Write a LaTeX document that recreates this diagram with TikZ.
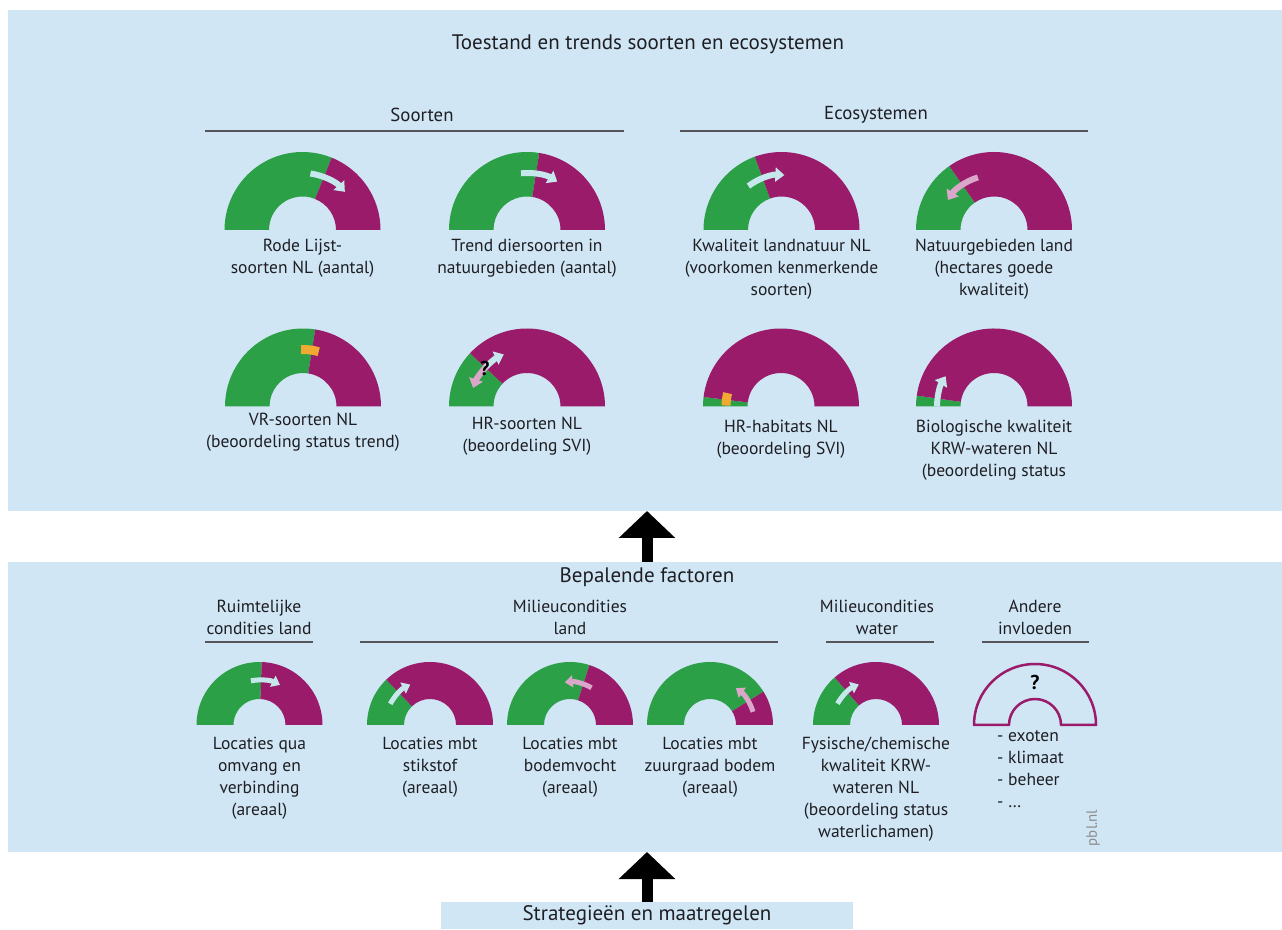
\documentclass[tikz,border=0pt]{standalone}
\usepackage{fontspec}
\setmainfont{PT Sans}
\usetikzlibrary{arrows.meta,calc}
\definecolor{panelblue}{RGB}{208,230,245}
\definecolor{ggreen}{RGB}{43,160,70}
\definecolor{gpurple}{RGB}{155,27,107}
\definecolor{acyan}{RGB}{198,232,236}
\definecolor{apink}{RGB}{218,166,202}
\definecolor{aorange}{RGB}{240,170,50}
\definecolor{textc}{RGB}{30,30,35}
\definecolor{linec}{RGB}{85,85,90}
\newcommand\gaugeX[5]{%
  \begin{scope}[shift={(#1,#2)}]
    \fill[ggreen] (180:#3) arc[start angle=180,end angle=#5,radius=#3] -- (#5:#4) arc[start angle=#5,end angle=180,radius=#4] -- cycle;
    \fill[gpurple] (#5:#3) arc[start angle=#5,end angle=0,radius=#3] -- (0:#4) arc[start angle=0,end angle=#5,radius=#4] -- cycle;
  \end{scope}}
\newcommand\garrowX[6]{%
  \begin{scope}[shift={(#2,#3)}]
    \draw[#1] (#5:#4) arc[start angle=#5,end angle=#6,radius=#4];
  \end{scope}}
\tikzset{
  panel/.style={fill=panelblue,draw=none,inner sep=0,outer sep=0},
  ttl/.style={font=\fontsize{21}{25}\selectfont,text=textc,inner sep=0},
  sub/.style={font=\fontsize{18.8}{22}\selectfont,text=textc,inner sep=0},
  lbl/.style={font=\fontsize{17.5}{22}\selectfont,text=textc,align=center,anchor=north,inner sep=0},
  uline/.style={draw=linec,line width=1.4pt},
  bigarrow/.style={line width=11pt,-{Triangle[length=27pt,width=55pt]}},
  carrow/.style={acyan,line width=6pt,-{Triangle[length=9pt,width=14pt]}},
  parrow/.style={apink,line width=6pt,-{Triangle[length=9pt,width=14pt]}},
  scarrow/.style={acyan,line width=5pt,-{Triangle[length=8pt,width=12pt]}},
  sparrow/.style={apink,line width=5pt,-{Triangle[length=8pt,width=12pt]}},
  obar/.style={aorange,line width=9pt},
  qmark/.style={font=\bfseries\fontsize{20}{22}\selectfont,text=black,inner sep=0}
}
\begin{document}
\begin{tikzpicture}[x=1pt,y=1pt]
\useasboundingbox (0,0) rectangle (1282,929);
% panels
\node[panel,minimum width=1274pt,minimum height=501pt] (toppanel) at (645,668.5) {};
\node[panel,minimum width=1274pt,minimum height=290pt] (botpanel) at (645,222) {};
\node[panel,minimum width=412pt,minimum height=27pt,font=\fontsize{21}{25}\selectfont,text=textc] (strat) at (647,13.5) {Strategieën en maatregelen};
% big arrows
\draw[bigarrow] (botpanel.north -| strat.north) -- (toppanel.south -| strat.north);
\draw[bigarrow] (strat.north) -- (botpanel.south -| strat.north);
% top titles
\node[ttl] (title) at (648,885) {Toestand en trends soorten en ecosystemen};
\node[sub] (soorten) at (422,814) {Soorten};
\node[sub] (eco) at (876,814) {Ecosystemen};
\draw[uline] (205,798) -- (624,798);
\draw[uline] (680,798) -- (1088,798);
% row 1 gauges
\gaugeX{302.5}{699}{78pt}{33.5pt}{68}
\gaugeX{527}{699}{78pt}{33.5pt}{81}
\gaugeX{781.5}{699}{78pt}{33.5pt}{110}
\gaugeX{994}{699}{78pt}{33.5pt}{125}
\garrowX{carrow}{302.5}{699}{57pt}{82}{42}
\garrowX{carrow}{527}{699}{57pt}{96}{58}
\garrowX{carrow}{781.5}{699}{55pt}{127}{87}
\garrowX{parrow}{994}{699}{55pt}{107}{147}
% row 2 gauges
\gaugeX{303}{522.5}{78pt}{33.5pt}{81}
\gaugeX{527}{522.5}{78pt}{33.5pt}{137}
\gaugeX{781}{522.5}{78pt}{33.5pt}{173}
\gaugeX{994}{522.5}{78pt}{33.5pt}{172}
\garrowX{obar}{303}{522.5}{57pt}{92}{74}
\garrowX{carrow}{527}{522.5}{57pt}{138}{114}
\garrowX{parrow}{527}{522.5}{57pt}{136}{161}
\node[qmark] (q1) at (485,561) {?};
\garrowX{obar}{781}{522.5}{55pt}{179}{166}
\garrowX{carrow}{994}{522.5}{57pt}{180}{148}
% labels top
\node[lbl] (l1) at (302.5,690) {Rode Lijst-\\soorten NL (aantal)};
\node[lbl] (l2) at (527,690) {Trend diersoorten in\\natuurgebieden (aantal)};
\node[lbl] (l3) at (781.5,690) {Kwaliteit landnatuur NL\\(voorkomen kenmerkende\\soorten)};
\node[lbl] (l4) at (994,690) {Natuurgebieden land\\(hectares goede\\kwaliteit)};
\node[lbl] (l5) at (303,516) {VR-soorten NL\\(beoordeling status trend)};
\node[lbl] (l6) at (527,512) {HR-soorten NL\\(beoordeling SVI)};
\node[lbl] (l7) at (781,509) {HR-habitats NL\\(beoordeling SVI)};
\node[lbl] (l8) at (994,509) {Biologische kwaliteit\\KRW-wateren NL\\(beoordeling status};
% bottom panel
\node[ttl] (bep) at (647,352) {Bepalende factoren};
\node[lbl] (h1) at (259,329) {Ruimtelijke\\condities land};
\node[lbl] (h2) at (570,329) {Milieucondities\\land};
\node[lbl] (h3) at (877,329) {Milieucondities\\water};
\node[lbl] (h4) at (1035,329) {Andere\\invloeden};
\draw[uline] (205,287) -- (313,287);
\draw[uline] (360,287) -- (778,287);
\draw[uline] (826,287) -- (934,287);
\draw[uline] (982,287) -- (1089,287);
\gaugeX{259.5}{204}{63pt}{26pt}{88}
\gaugeX{430}{204}{63pt}{26pt}{134}
\gaugeX{570}{204}{63pt}{26pt}{72}
\gaugeX{710}{204}{63pt}{26pt}{32}
\gaugeX{876}{204}{63pt}{26pt}{131}
\garrowX{scarrow}{259.5}{204}{45pt}{101}{63}
\garrowX{scarrow}{430}{204}{45pt}{152}{116}
\garrowX{sparrow}{570}{204}{43pt}{60}{97}
\garrowX{sparrow}{710}{204}{45pt}{17}{55}
\garrowX{scarrow}{876}{204}{44pt}{151}{113}
\draw[gpurple,line width=2.5pt,line join=round] (1035,204) ++(180:61pt) arc[start angle=180,end angle=0,radius=61pt] -- ++(-35pt,0) arc[start angle=0,end angle=180,radius=26pt] -- cycle;
\node[qmark] (q2) at (1035,247) {?};
\node[lbl] (b1) at (259.5,192) {Locaties qua\\omvang en\\verbinding\\(areaal)};
\node[lbl] (b2) at (430,192) {Locaties mbt\\stikstof\\(areaal)};
\node[lbl] (b3) at (570,192) {Locaties mbt\\bodemvocht\\(areaal)};
\node[lbl] (b4) at (710,192) {Locaties mbt\\zuurgraad bodem\\(areaal)};
\node[lbl] (b5) at (876,192) {Fysische/chemische\\kwaliteit KRW-\\wateren NL\\(beoordeling status\\waterlichamen)};
\node[lbl,align=left,anchor=north west] (b6) at (997,199) {- exoten\\- klimaat\\- beheer\\- …};
\node[rotate=90,text=black!45,font=\fontsize{15}{17}\selectfont,inner sep=0] (pbl) at (1093,101) {pbl.nl};
\end{tikzpicture}
\end{document}
